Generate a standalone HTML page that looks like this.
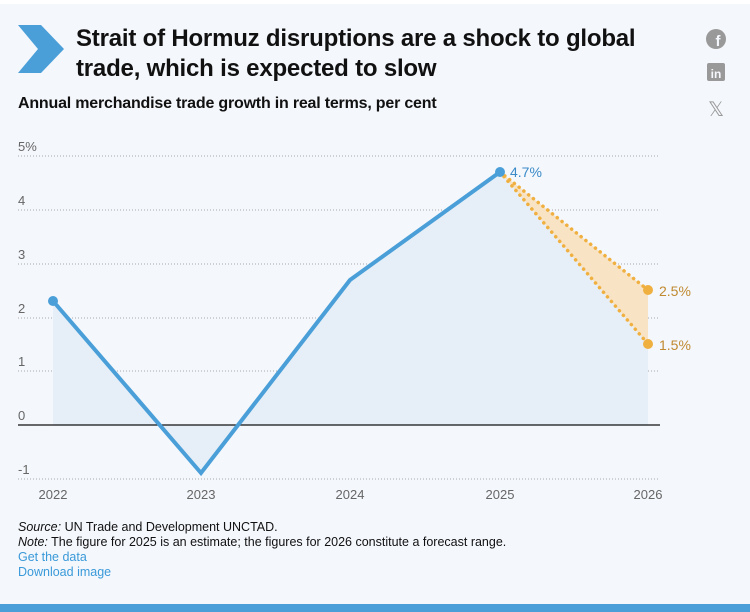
<!DOCTYPE html>
<html><head><meta charset="utf-8"><style>
body{margin:0;width:750px;height:612px;background:#fff;font-family:"Liberation Sans",sans-serif;overflow:hidden;position:relative}
.card{position:absolute;left:0;top:4px;width:750px;height:600px;background:#f4f7fc}
.bar{position:absolute;left:0;top:604px;width:750px;height:8px;background:#4a9fd8}
.t{position:absolute;left:76px;top:24px;font-size:24px;font-weight:bold;line-height:30px;color:#111;letter-spacing:-0.2px}
.s{position:absolute;left:18px;top:95px;font-size:16px;font-weight:bold;color:#111;letter-spacing:-0.2px}
.f{position:absolute;left:18px;top:520px;font-size:12.5px;line-height:15px;color:#111}
.f a{color:#3a9ad9;text-decoration:none}
</style></head><body>
<div class="card"></div><div class="bar"></div>
<svg style="position:absolute;left:18px;top:25px" width="46" height="48"><polygon points="0,0 23,0 46,24 23,48 0,48 20,24" fill="#4a9fd8"/></svg>
<div class="t">Strait of Hormuz disruptions are a shock to global<br>trade, which is expected to slow</div>
<div class="s">Annual merchandise trade growth in real terms, per cent</div>
<svg style="position:absolute;left:705px;top:28px" width="24" height="95">
<circle cx="11" cy="11" r="10" fill="#999"/><text x="13" y="18" font-size="15" font-weight="bold" fill="#f4f7fc" text-anchor="middle" font-family="Liberation Sans">f</text>
<rect x="2" y="35" width="18" height="18" rx="2" fill="#999"/><text x="11" y="50" font-size="12" font-weight="bold" fill="#f4f7fc" text-anchor="middle" font-family="Liberation Sans">in</text>
<text x="11" y="88" font-size="20" fill="#999" text-anchor="middle" font-family="Liberation Sans">𝕏</text>
</svg>
<svg style="position:absolute;left:0;top:0" width="750" height="612" font-family="Liberation Sans">
<g stroke="#aaa" stroke-dasharray="1,2" stroke-width="1">
<line x1="18" x2="660" y1="156" y2="156"/><line x1="18" x2="660" y1="210" y2="210"/><line x1="18" x2="660" y1="264" y2="264"/><line x1="18" x2="660" y1="318" y2="318"/><line x1="18" x2="660" y1="371" y2="371"/><line x1="18" x2="660" y1="479" y2="479"/>
</g>
<g font-size="13" fill="#666">
<text x="18" y="151">5%</text><text x="18" y="205">4</text><text x="18" y="259">3</text><text x="18" y="313">2</text><text x="18" y="366">1</text><text x="18" y="420">0</text><text x="18" y="474">-1</text>
</g>
<polygon points="53,425 53,301 201,473 350,280 500,172 648,344 648,425" fill="#e6eff8"/>
<polygon points="500,172 648,290 648,344" fill="#f8e3c4"/>
<line x1="18" x2="660" y1="425" y2="425" stroke="#111" stroke-width="1.2"/>
<polyline points="53,301 201,473 350,280 500,172" fill="none" stroke="#4a9fd8" stroke-width="4" stroke-linejoin="miter"/>
<g stroke="#f0b040" stroke-width="3.5" stroke-dasharray="0.1,6" stroke-linecap="round" fill="none">
<line x1="500" y1="172" x2="648" y2="290"/><line x1="500" y1="172" x2="648" y2="344"/></g>
<circle cx="53" cy="301" r="5" fill="#4a9fd8"/><circle cx="500" cy="172" r="5" fill="#4a9fd8"/>
<circle cx="648" cy="290" r="5" fill="#f0b040"/><circle cx="648" cy="344" r="5" fill="#f0b040"/>
<text x="510" y="177" font-size="14" fill="#3a8ac8">4.7%</text>
<text x="659" y="296" font-size="14" fill="#c08a30">2.5%</text>
<text x="659" y="350" font-size="14" fill="#c08a30">1.5%</text>
<g font-size="13" fill="#666" text-anchor="middle">
<text x="53" y="499">2022</text><text x="201" y="499">2023</text><text x="350" y="499">2024</text><text x="500" y="499">2025</text><text x="648" y="499">2026</text></g>
</svg>
<div class="f"><i>Source:</i> UN Trade and Development UNCTAD.<br><i>Note:</i> The figure for 2025 is an estimate; the figures for 2026 constitute a forecast range.<br><a>Get the data</a><br><a>Download image</a></div>
</body></html>
